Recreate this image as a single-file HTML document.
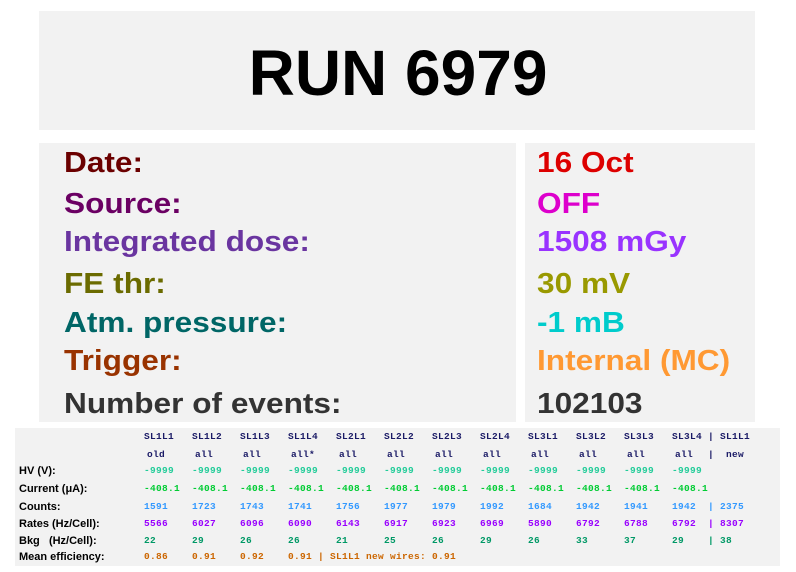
<!DOCTYPE html>
<html><head><meta charset="utf-8"><style>
body{margin:0;width:796px;height:572px;background:#fff;position:relative;overflow:hidden;font-family:"Liberation Sans",sans-serif}
.box{position:absolute;background:#f2f2f2}
.t{position:absolute;white-space:nowrap;font-weight:bold;line-height:1}
.b{font-size:29px;transform:scaleX(1.09);transform-origin:0 0}
.m{position:absolute;white-space:nowrap;font-family:"Liberation Mono",monospace;font-size:9.5px;font-weight:bold;line-height:1;letter-spacing:0.3px}
.l{position:absolute;white-space:nowrap;font-size:11px;font-weight:bold;line-height:1;left:19px}
</style></head><body>
<div class="box" style="left:39px;top:11px;width:716px;height:119px"></div>
<div class="t" style="left:0;width:796px;text-align:center;top:41px;font-size:64px;color:#000">RUN 6979</div>
<div class="box" style="left:39px;top:143px;width:477px;height:279px"></div>
<div class="box" style="left:525px;top:143px;width:230px;height:279px"></div>
<div class="t b" style="left:64px;top:149px;color:#6b0000">Date:</div>
<div class="t b" style="left:64px;top:190px;color:#6b0063">Source:</div>
<div class="t b" style="left:64px;top:228px;color:#6a35a0">Integrated dose:</div>
<div class="t b" style="left:64px;top:270px;color:#6b6b00">FE thr:</div>
<div class="t b" style="left:64px;top:309px;color:#006666">Atm. pressure:</div>
<div class="t b" style="left:64px;top:347px;color:#993300">Trigger:</div>
<div class="t b" style="left:64px;top:390px;color:#333">Number of events:</div>
<div class="t b" style="left:537px;top:149px;color:#dd0000">16 Oct</div>
<div class="t b" style="left:537px;top:190px;color:#dd00cc">OFF</div>
<div class="t b" style="left:537px;top:228px;color:#9933ff">1508 mGy</div>
<div class="t b" style="left:537px;top:270px;color:#999900">30 mV</div>
<div class="t b" style="left:537px;top:309px;color:#00cccc">-1 mB</div>
<div class="t b" style="left:537px;top:347px;color:#ff9933">Internal (MC)</div>
<div class="t b" style="left:537px;top:390px;color:#333">102103</div>
<div class="box" style="left:15px;top:428px;width:765px;height:138px"></div>
<div class="l" style="top:466px">HV (V):</div>
<div class="l" style="top:484px">Current (&mu;A):</div>
<div class="l" style="top:502px">Counts:</div>
<div class="l" style="top:519px">Rates (Hz/Cell):</div>
<div class="l" style="top:536px">Bkg &nbsp; (Hz/Cell):</div>
<div class="l" style="top:552px">Mean efficiency:</div>
<div id="tbl"></div>
<script>
var cols=["SL1L1","SL1L2","SL1L3","SL1L4","SL2L1","SL2L2","SL2L3","SL2L4","SL3L1","SL3L2","SL3L3","SL3L4"];
var sub=["old","all","all","all*","all","all","all","all","all","all","all","all"];
var cnt=[1591,1723,1743,1741,1756,1977,1979,1992,1684,1942,1941,1942];
var rt=[5566,6027,6096,6090,6143,6917,6923,6969,5890,6792,6788,6792];
var bk=[22,29,26,26,21,25,26,29,26,33,37,29];
var h="";
function m(x,y,c,s){h+='<div class="m" style="left:'+x+'px;top:'+y+'px;color:'+c+'">'+s+'</div>';}
for(var i=0;i<12;i++){var x=144+48*i;
m(x,432,"#1a1a66",cols[i]);m(x+3,450,"#1a1a66",sub[i]);
m(x,466,"#22cc99","-9999");m(x,484,"#00cc33","-408.1");
m(x,502,"#3399ff",cnt[i]);m(x,519,"#9900ff",rt[i]);m(x,536,"#009966",bk[i]);}
m(708,432,"#1a1a66","| SL1L1");m(708,450,"#1a1a66","| &nbsp;new");
m(708,502,"#3399ff","| 2375");m(708,519,"#9900ff","| 8307");m(708,536,"#009966","| 38");
m(144,552,"#cc6600","0.86");m(192,552,"#cc6600","0.91");m(240,552,"#cc6600","0.92");
m(288,552,"#cc6600","0.91 | SL1L1 new wires: 0.91");
document.getElementById("tbl").innerHTML=h;
</script>
</body></html>
